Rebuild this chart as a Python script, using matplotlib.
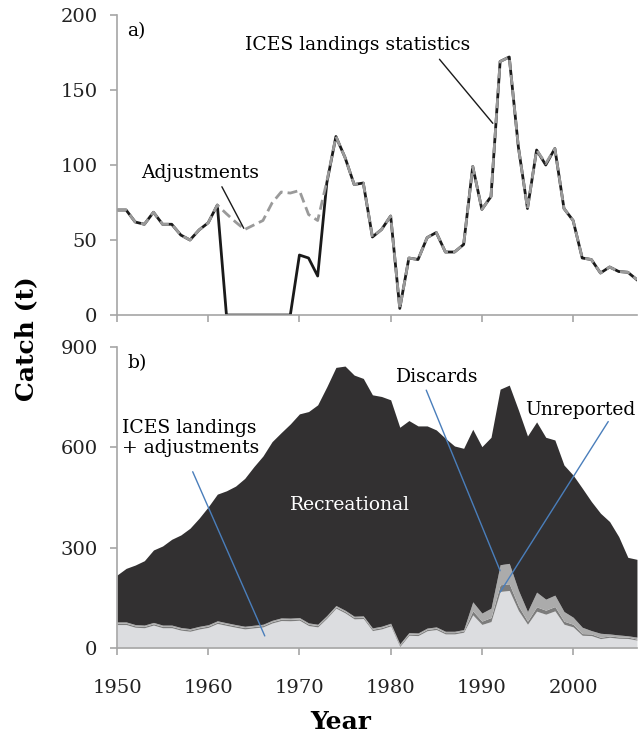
import matplotlib

matplotlib.use("Agg")
import matplotlib.pyplot as plt
import numpy as np

plt.rcParams["font.family"] = ["DejaVu Serif"]

years = list(range(1950, 2008))

# a) ICES landings statistics (t)
ices_landings = [
    70, 70, 62, 60.5, 68.5, 60.5, 60.5, 53.3, 50, 56.7,
    61.5, 73.3, 0, 0, 0, 0, 0, 0, 0, 0,
    40, 38, 26, 88, 119, 105, 87, 88, 52, 57,
    66, 4.4, 38, 37, 51.6, 55, 42, 42, 47, 99,
    70.4, 79, 169, 172, 112, 71, 110, 100, 111, 71,
    63, 38, 37, 28, 32, 29, 28.5, 23.5,
]

# a) landings including adjustments (t)
ices_adjusted = [
    70, 70, 62, 60.5, 68.5, 60.5, 60.5, 53.3, 50, 56.7,
    61.5, 73.3, 67.5, 62, 57, 60, 63, 74.7, 82, 81.3,
    83, 67, 63, 89, 119, 105, 87, 88, 52, 57,
    66, 4.4, 38, 37, 51.6, 55, 42, 42, 47, 99,
    70.4, 79, 169, 172, 112, 71, 110, 101, 111, 71,
    63, 38, 37, 28, 32, 29, 28.5, 23.5,
]

# b) extra components on top of landings + adjustments (t)
unreported = [4] * 39 + [
    12, 10, 12, 20, 20, 14, 9, 13, 12, 13,
    9, 8, 5, 5, 4, 4, 4, 4, 3,
]
discards = [4] * 39 + [
    27, 24, 28, 60, 61, 47, 29, 44, 33, 34,
    29, 21, 19, 10, 12, 6, 6, 4, 6,
]

# b) total catch incl. recreational (top of the stack, t)
total_catch = [
    218, 238, 248, 261, 293, 305, 325, 338, 358, 388,
    422, 460, 470, 484, 507, 542, 574, 617, 644, 670,
    700, 707, 727, 781, 839, 843, 816, 806, 757, 752,
    742, 660, 680, 664, 664, 652, 627, 604, 597, 654,
    602, 630, 774, 786, 712, 634, 676, 630, 622, 547,
    517, 478, 438, 403, 378, 333, 271, 265,
]

x_ticks = [1950, 1960, 1970, 1980, 1990, 2000]
top_yticks = [0, 50, 100, 150, 200]
bottom_yticks = [0, 300, 600, 900]

AXIS_GREY = "#a6a6a6"
BLUE = "#4a7ebb"
TICK_SIZE = 14
NOTE_SIZE = 13.5


def _style_axis(ax, yticks, ylim):
    for side in ["top", "right"]:
        ax.spines[side].set_visible(False)
    for side in ["left", "bottom"]:
        ax.spines[side].set_color(AXIS_GREY)
        ax.spines[side].set_linewidth(1.2)
    ax.set_xlim(1950, 2007)
    ax.set_ylim(*ylim)
    ax.set_yticks(yticks)
    ax.set_xticks(x_ticks)
    ax.tick_params(direction="out", length=5, width=1.2, color=AXIS_GREY,
                   labelsize=TICK_SIZE, labelcolor="#222222")
    ax.tick_params(axis="y", pad=9)
    ax.tick_params(axis="x", pad=17)


def _leader(ax, start, end, color):
    ax.annotate("", xy=end, xytext=start,
                arrowprops=dict(arrowstyle="-", color=color, lw=1.0,
                                shrinkA=0, shrinkB=0), zorder=4)


fig = plt.figure(figsize=(6.41, 7.35), dpi=100)
ax_a = fig.add_axes([0.1825, 0.5714, 0.8112, 0.4082])
ax_b = fig.add_axes([0.1825, 0.1184, 0.8112, 0.4095])

# ---- panel a
yr = np.array(years)
ax_a.plot(yr, ices_landings, color="#1a1a1a", lw=2.0, zorder=2)
ax_a.plot(yr, ices_adjusted, color="#9a9a9a", lw=2.0, dashes=(3.6, 1.8), zorder=3)
_style_axis(ax_a, top_yticks, (0, 200))
ax_a.set_xticklabels([])
ax_a.text(0.02, 0.975, "a)", transform=ax_a.transAxes, fontsize=NOTE_SIZE,
          ha="left", va="top")
ax_a.text(1976.4, 180, "ICES landings statistics", fontsize=NOTE_SIZE,
          ha="center", va="center")
_leader(ax_a, (1985.35, 170.5), (1991.2, 127.8), "#1a1a1a")
ax_a.text(1959.15, 94.7, "Adjustments", fontsize=NOTE_SIZE,
          ha="center", va="center")
_leader(ax_a, (1961.5, 85.5), (1963.9, 57.8), "#1a1a1a")

# ---- panel b
base = np.array(ices_adjusted, dtype=float)
lvl1 = base + np.array(unreported)
lvl2 = lvl1 + np.array(discards)
top = np.array(total_catch, dtype=float)

ax_b.fill_between(yr, 0, base, color="#dcdde0", lw=0, zorder=1)
ax_b.fill_between(yr, base, lvl1, color="#7c7c7c", lw=0, zorder=1)
ax_b.fill_between(yr, lvl1, lvl2, color="#ababab", lw=0, zorder=1)
ax_b.fill_between(yr, lvl2, top, color="#323031", lw=0, zorder=1)
_style_axis(ax_b, bottom_yticks, (0, 900))
ax_b.set_xticklabels([str(t) for t in x_ticks])

ax_b.text(0.02, 0.975, "b)", transform=ax_b.transAxes, fontsize=NOTE_SIZE,
          ha="left", va="top")
ax_b.text(1975.5, 428, "Recreational", fontsize=NOTE_SIZE, color="white",
          ha="center", va="center", zorder=4)
ax_b.text(1950.55, 628, "ICES landings\n+ adjustments", fontsize=NOTE_SIZE,
          ha="left", va="center", linespacing=1.15, zorder=4)
_leader(ax_b, (1958.3, 527), (1966.2, 36), BLUE)
ax_b.text(1985.1, 810, "Discards", fontsize=NOTE_SIZE,
          ha="center", va="center", zorder=4)
_leader(ax_b, (1983.9, 771), (1992.0, 231), BLUE)
ax_b.text(2000.8, 712, "Unreported", fontsize=NOTE_SIZE,
          ha="center", va="center", zorder=4)
_leader(ax_b, (2003.85, 677), (1992.0, 167), BLUE)

fig.text(26 / 641, 1 - 339 / 735, "Catch (t)", rotation=90, fontsize=18,
         fontweight="bold", ha="center", va="center")
fig.text(341 / 641, 1 - 722 / 735, "Year", fontsize=18, fontweight="bold",
         ha="center", va="center")

fig.savefig("out.png", dpi=100)
